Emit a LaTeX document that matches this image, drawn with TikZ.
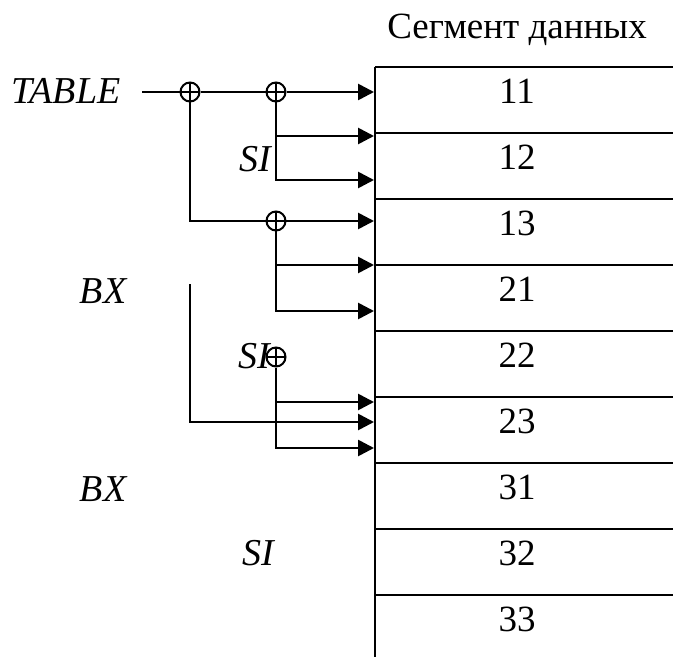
\documentclass[tikz,border=0pt]{standalone}
\usepackage{fontspec}
\setmainfont{Liberation Serif}
\usetikzlibrary{arrows.meta}

\tikzset{
  every node/.style={font=\fontsize{18.5}{22}\selectfont, inner sep=0pt},
  adder/.style={draw, circle, minimum size=9.5pt, line width=1pt, fill=white,
    path picture={\draw[line width=1pt] (path picture bounding box.north) -- (path picture bounding box.south)
      (path picture bounding box.west) -- (path picture bounding box.east);}},
  ptr/.style={-{Triangle[length=8pt,width=8pt]}},
  reg/.style={font=\fontsize{19}{22}\selectfont\itshape}
}

\begin{document}
\begin{tikzpicture}[x=0.5pt,y=-0.5pt,line width=1.35pt]
\useasboundingbox (0,0) rectangle (673,657);
% data segment
\node (title) at (517,30) {Сегмент данных};
\draw (375,67) -- (375,657);
\foreach \v [count=\i from 0] in {11,12,13,21,22,23,31,32,33} {
  \draw (375,67+66*\i) -- (673,67+66*\i);
  \node (c\v) at (517,91+66*\i) {\v};
}
% arrow ends on the segment
\coordinate (t1) at (374,92);
\coordinate (t2) at (374,136);
\coordinate (t3) at (374,180);
\coordinate (t4) at (374,221);
\coordinate (t5) at (374,265);
\coordinate (t6) at (374,311);
\coordinate (t7) at (374,402);
\coordinate (t8) at (374,422);
\coordinate (t9) at (374,448);
% registers and adders
\node[reg] (table) at (66,91) {TABLE};
\node[reg] (si1) at (255,159) {SI};
\node[reg] (bx1) at (103,291) {BX};
\node[reg] (si2) at (254,356) {SI};
\node[reg] (bx2) at (103,489) {BX};
\node[reg] (si3) at (258,553) {SI};
\coordinate (tin) at (142,92);
\coordinate (bxin) at (190,284);
\node[adder] (s1) at (190,92) {};
\node[adder] (s2) at (276,92) {};
\node[adder] (s3) at (276,221) {};
\node[adder] (s4) at (276,357) {};
% TABLE
\draw (tin) -- (s1) -- (s2);
\draw[ptr] (s2) -- (t1);
% TABLE+SI
\draw[ptr] (s2) |- (t3);
\draw[ptr] (s2 |- t2) -- (t2);
% TABLE+BX
\draw[ptr] (s1) |- (t4);
\draw[ptr] (s3) |- (t6);
\draw[ptr] (s3 |- t5) -- (t5);
% BX
\draw[ptr] (bxin) |- (t8);
% BX+SI
\draw[ptr] (s4) |- (t9);
\draw[ptr] (s4 |- t7) -- (t7);
\end{tikzpicture}
\end{document}
